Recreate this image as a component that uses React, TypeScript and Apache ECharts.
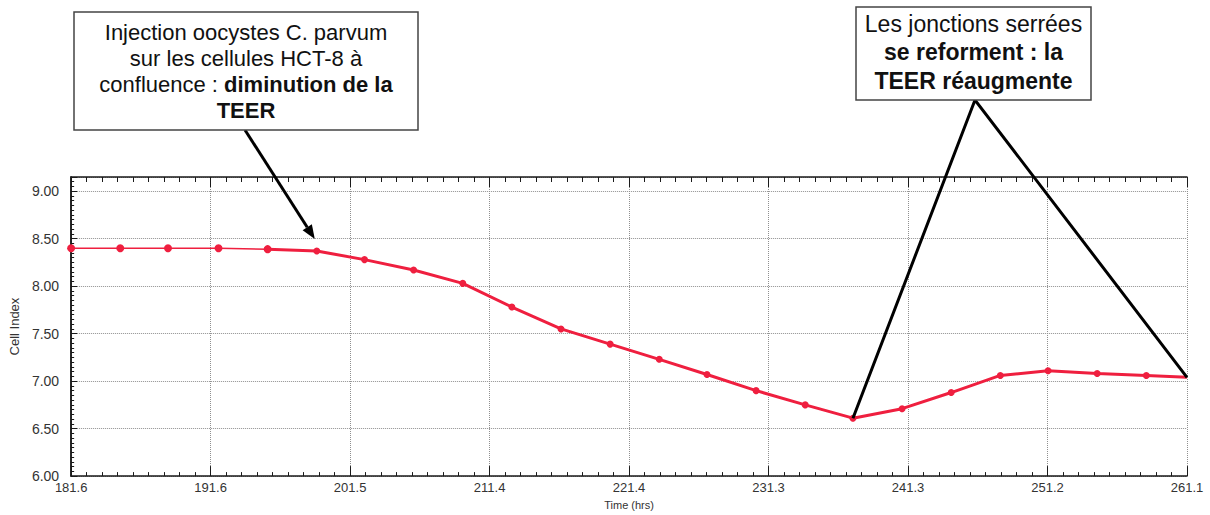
import React, { useEffect, useRef } from 'react';
import * as echarts from 'echarts';

// ---- data ----
const timeHrs = [181.6, 185.1, 188.5, 192.1, 195.6, 199.1, 202.5, 206.0, 209.5, 213.0, 216.5, 220.0, 223.5, 226.9, 230.4, 233.9, 237.3, 240.8, 244.3, 247.8, 251.2, 254.7, 258.2, 261.1];
const cellIndex = [8.40, 8.40, 8.40, 8.40, 8.39, 8.37, 8.28, 8.17, 8.03, 7.78, 7.55, 7.39, 7.23, 7.07, 6.90, 6.75, 6.61, 6.71, 6.88, 7.06, 7.11, 7.08, 7.06, 7.04];
const xTickLabels = ['181.6', '191.6', '201.5', '211.4', '221.4', '231.3', '241.3', '251.2', '261.1'];
const xMin = 181.6;
const xMax = 261.1;
const yMin = 6;
const yMax = 9.15;
const injectionIdx = 4; // thin line before, thick after
const arrowTargetIdx = 5;
const minIdx = 16;
const lastIdx = timeHrs.length - 1;

const note1 = 'Injection oocystes C. parvum\nsur les cellules HCT-8 à\nconfluence : {b|diminution de la}\n{b|TEER}';
const note2 = 'Les jonctions serrées\n{b|se reforment : la}\n{b|TEER réaugmente}';

const FONT = "'Liberation Sans', Arial, sans-serif";
const RED = '#ef1f3f';
const INK = '#1a1a1a';

export default function App() {
  const ref = useRef<HTMLDivElement>(null);

  useEffect(() => {
    if (!ref.current) return;
    const chart = echarts.init(ref.current, null, { renderer: 'svg' });
    const nSteps = xTickLabels.length - 1;
    const step = (xMax - xMin) / nSteps; // hours per labelled division
    const toAxis = (t: number) => (t - xMin) / step;

    const pts = timeHrs.map((t, i) => [toAxis(t), cellIndex[i]]);
    const thin = pts.slice(0, injectionIdx + 1);
    const thick = pts.slice(injectionIdx).map((p, i, arr) =>
      i === arr.length - 1 ? { value: p, symbol: 'none' } : { value: p }
    );

    const frameLine = { show: true, lineStyle: { color: INK, width: 1.5 } };
    const gridLine = { show: true, lineStyle: { color: '#8f8f8f', type: 'dotted', width: 1 } };

    chart.setOption({
      animation: false,
      grid: { left: 68.5, right: 23, top: 177, bottom: 31 },
      xAxis: [
        {
          type: 'value', position: 'bottom', min: 0, max: nSteps, interval: 1,
          axisLine: frameLine,
          axisTick: { show: true, inside: true, length: 10 },
          minorTick: { show: true, splitNumber: 9, length: 4 },
          splitLine: gridLine,
          axisLabel: {
            fontSize: 13, color: '#333', margin: 5, fontFamily: FONT,
            formatter: (v: number) => xTickLabels[Math.round(v)] ?? '',
          },
          name: 'Time (hrs)', nameLocation: 'middle', nameGap: 19,
          nameTextStyle: { fontSize: 11, color: '#333', fontFamily: FONT },
        },
        {
          type: 'value', position: 'top', min: 0, max: nSteps, interval: 1,
          axisLine: frameLine,
          axisTick: { show: true, inside: true, length: 10 },
          minorTick: { show: true, splitNumber: 9, length: 5 },
          splitLine: { show: false },
          axisLabel: { show: false },
        },
      ],
      yAxis: [
        {
          type: 'value', position: 'left', min: yMin, max: yMax, splitNumber: 6,
          axisLine: frameLine,
          axisTick: { show: true, inside: true, length: 6 },
          minorTick: { show: true, splitNumber: 10, length: 3 },
          splitLine: gridLine,
          axisLabel: {
            fontSize: 14, color: '#333', margin: 12, fontFamily: FONT,
            formatter: (v: number) => (Math.abs(v * 2 - Math.round(v * 2)) < 1e-6 ? v.toFixed(2) : ''),
          },
          name: 'Cell Index', nameLocation: 'middle', nameGap: 40,
          nameTextStyle: { fontSize: 13, color: '#333', fontFamily: FONT },
        },
        {
          type: 'value', position: 'right', min: yMin, max: yMax,
          axisLine: frameLine,
          axisTick: { show: false },
          splitLine: { show: false },
          axisLabel: { show: false },
        },
      ],
      series: [
        {
          type: 'line', xAxisIndex: 0, yAxisIndex: 0, data: thin,
          symbol: 'circle', symbolSize: 8,
          lineStyle: { color: RED, width: 1.5 }, itemStyle: { color: RED },
        },
        {
          type: 'line', xAxisIndex: 0, yAxisIndex: 0, data: thick,
          symbol: 'circle', symbolSize: 7,
          lineStyle: { color: RED, width: 3 }, itemStyle: { color: RED },
        },
      ],
    });

    // ---- annotations (boxes + arrows), anchored to data points via the chart's scales ----
    const px = (i: number) =>
      chart.convertToPixel({ xAxisIndex: 0, yAxisIndex: 0 }, [toAxis(timeHrs[i]), cellIndex[i]]) as number[];

    const tgt = px(arrowTargetIdx);
    const tip = [tgt[0] - 2, tgt[1] - 12];
    const start = [245, 130];
    const dx = tip[0] - start[0];
    const dy = tip[1] - start[1];
    const len = Math.hypot(dx, dy);
    const ux = dx / len, uy = dy / len;
    const headL = 14, headW = 5.5;
    const base = [tip[0] - ux * headL, tip[1] - uy * headL];
    const pA = [base[0] - uy * headW, base[1] + ux * headW];
    const pB = [base[0] + uy * headW, base[1] - ux * headW];

    const pMin = px(minIdx);
    const pLast = px(lastIdx);
    const apex = [975, 100];

    const G: any = echarts.graphic;
    const zr = chart.getZr();
    zr.add(new G.Line({
      z: 100,
      shape: { x1: start[0], y1: start[1], x2: base[0], y2: base[1] },
      style: { stroke: '#000', lineWidth: 3 },
    }));
    zr.add(new G.Polygon({ z: 100, shape: { points: [tip, pA, pB] }, style: { fill: '#000' } }));
    zr.add(new G.Polyline({
      z: 100,
      shape: { points: [pMin, apex, pLast] },
      style: { stroke: '#000', lineWidth: 3, fill: null },
    }));
    zr.add(new G.Rect({
      z: 101,
      shape: { x: 74, y: 12, width: 344, height: 118 },
      style: { fill: '#fff', stroke: '#444', lineWidth: 1.5 },
    }));
    zr.add(new G.Text({
      z: 102, x: 246, y: 71,
      style: {
        text: note1, fill: '#111', fontSize: 22, fontFamily: FONT, lineHeight: 26,
        align: 'center', verticalAlign: 'middle',
        rich: { b: { fontWeight: 'bold', fontSize: 22, fontFamily: FONT, lineHeight: 26, fill: '#111' } },
      },
    }));
    zr.add(new G.Rect({
      z: 101,
      shape: { x: 856, y: 7, width: 235, height: 93 },
      style: { fill: '#fff', stroke: '#444', lineWidth: 1.5 },
    }));
    zr.add(new G.Text({
      z: 102, x: 973.5, y: 52,
      style: {
        text: note2, fill: '#111', fontSize: 23, fontFamily: FONT, lineHeight: 28.5,
        align: 'center', verticalAlign: 'middle',
        rich: { b: { fontWeight: 'bold', fontSize: 23, fontFamily: FONT, lineHeight: 28.5, fill: '#111' } },
      },
    }));

    return () => chart.dispose();
  }, []);

  return (
    <div
      ref={ref}
      style={{ position: 'fixed', left: 0, top: 0, width: 1210, height: 515, background: '#fff' }}
    />
  );
}
